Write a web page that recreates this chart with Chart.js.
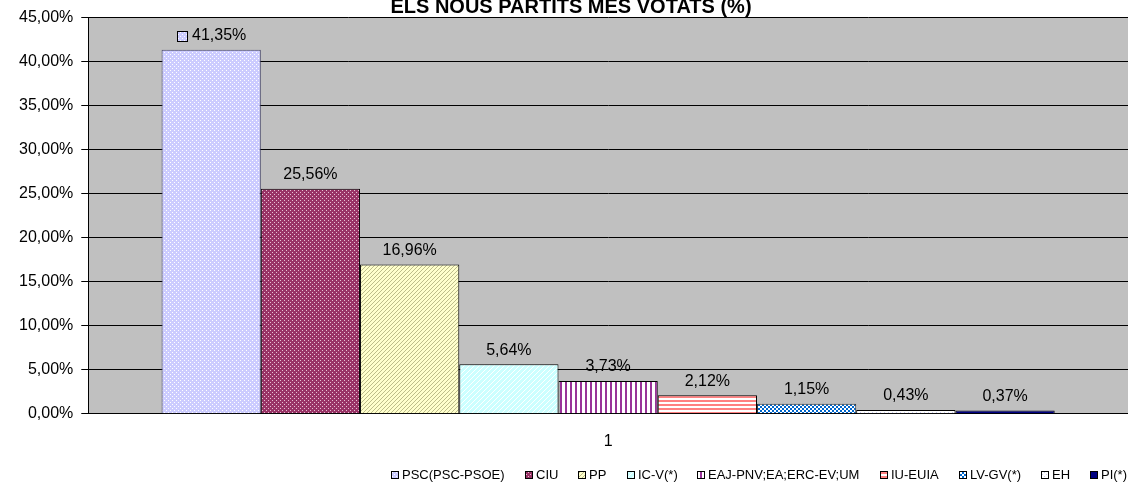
<!DOCTYPE html>
<html>
<head>
<meta charset="utf-8">
<script src="https://cdn.jsdelivr.net/npm/chart.js@4"></script>
<style>
  html, body { margin: 0; background: #fff; }
  #wrap { width: 1128px; height: 486px; position: relative; }
</style>
</head>
<body>
<div id="wrap"><canvas id="chart"></canvas></div>
<script>
// Dades del gràfic
const chartTitle = 'ELS NOUS PARTITS MÉS VOTATS (%)';
const categories = ['1'];
const parties = ['PSC(PSC-PSOE)', 'CIU', 'PP', 'IC-V(*)', 'EAJ-PNV;EA;ERC-EV;UM', 'IU-EUIA', 'LV-GV(*)', 'EH', 'PI(*)'];
const votes = [41.35, 25.56, 16.96, 5.64, 3.73, 2.12, 1.15, 0.43, 0.37];
const yMin = 0, yMax = 45, yStep = 5;

const FONT = '"Liberation Sans", Arial, sans-serif';
const canvasEl = document.getElementById('chart');
const ctx = canvasEl.getContext('2d');

// petits mosaics per imitar les trames d'Excel
function tile(w, h, bg, fg, cells) {
    const c = document.createElement('canvas');
    c.width = w; c.height = h;
    const g = c.getContext('2d');
    g.fillStyle = bg;
    g.fillRect(0, 0, w, h);
    g.fillStyle = fg;
    cells.forEach(([x, y, cw, ch]) => g.fillRect(x, y, cw || 1, ch || 1));
    return ctx.createPattern(c, 'repeat');
}

const fills = [
    tile(4, 4, '#CCCCFF', '#FFFFFF', [[0, 0], [2, 2]]),
    tile(4, 4, '#993366', '#E8C0D4', [[0, 0], [2, 2]]),
    tile(4, 4, '#FFFFCC', '#BDBD8A', [[3, 0], [2, 1], [1, 2], [0, 3]]),
    tile(5, 5, '#CCFFFF', '#FFFFFF', [[4, 0], [3, 1], [2, 2], [1, 3], [0, 4]]),
    tile(5, 1, '#FFFFFF', '#993399', [[0, 0, 2, 1]]),
    tile(1, 4, '#FFFFFF', '#FF8080', [[0, 0, 1, 2]]),
    tile(4, 4, '#0066CC', '#FFFFFF', [[0, 0, 2, 2], [2, 2, 2, 2]]),
    tile(4, 4, '#FFFFFF', '#CCCCF0', [[0, 0], [2, 2]]),
    '#000080'
];
const borders = ['#404066', '#000', '#000', '#000', '#000', '#000', '#333', '#000', '#000'];

function pct(v) {
    return v.toFixed(2).replace('.', ',') + '%';
}

// fons gris de l'àrea del gràfic
const plotBg = {
    id: 'plotBg',
    beforeDraw(chart) {
        const { ctx, chartArea: a } = chart;
        ctx.save();
        ctx.fillStyle = '#C0C0C0';
        ctx.fillRect(a.left, a.top, a.right - a.left, a.bottom - a.top);
        ctx.restore();
    }
};

// títol retallat a dalt, com a l'original
const topTitle = {
    id: 'topTitle',
    afterDraw(chart) {
        const c = chart.ctx;
        c.save();
        c.font = 'bold 20px ' + FONT;
        c.fillStyle = '#000';
        c.textAlign = 'center';
        c.textBaseline = 'alphabetic';
        c.fillText(chartTitle, 571, 13);
        c.restore();
    }
};

// etiquetes de valor sobre les barres
const valueLabels = {
    id: 'valueLabels',
    afterDatasetsDraw(chart) {
        const c = chart.ctx;
        c.save();
        c.font = '16px ' + FONT;
        c.fillStyle = '#000';
        c.textBaseline = 'middle';
        chart.data.datasets.forEach((ds, i) => {
            const bar = chart.getDatasetMeta(i).data[0];
            const txt = pct(ds.data[0]);
            const w = c.measureText(txt).width;
            const y = bar.y - 14;
            if (i === 0) {
                // clau de llegenda davant de la primera etiqueta
                const total = 11 + 4 + w;
                const x0 = Math.round(bar.x - total / 2);
                c.fillStyle = ds.backgroundColor;
                c.fillRect(x0, Math.round(y) - 5, 11, 11);
                c.strokeStyle = '#000';
                c.lineWidth = 1;
                c.strokeRect(x0 + 0.5, Math.round(y) - 4.5, 10, 10);
                c.fillStyle = '#000';
                c.textAlign = 'left';
                c.fillText(txt, x0 + 15, y);
            } else {
                c.textAlign = 'center';
                c.fillText(txt, bar.x, y);
            }
        });
        c.restore();
    }
};

// llegenda a baix a la dreta, dibuixada a mà
const bottomLegend = {
    id: 'bottomLegend',
    afterDraw(chart) {
        const c = chart.ctx;
        const left = 391, right = 1127, y = 475, box = 8, gap = 3;
        c.save();
        c.font = '13px ' + FONT;
        c.textBaseline = 'middle';
        c.textAlign = 'left';
        const widths = chart.data.datasets.map(ds => box + gap + c.measureText(ds.label).width);
        const sum = widths.reduce((a, b) => a + b, 0);
        const space = (right - left - sum) / (widths.length - 1);
        let x = left;
        chart.data.datasets.forEach((ds, i) => {
            const bx = Math.round(x);
            c.fillStyle = ds.backgroundColor;
            c.fillRect(bx, y - 4, box, box);
            c.strokeStyle = '#000';
            c.lineWidth = 1;
            c.strokeRect(bx + 0.5, y - 3.5, box - 1, box - 1);
            c.fillStyle = '#000';
            c.fillText(ds.label, bx + box + gap, y + 0.5);
            x += widths[i] + space;
        });
        c.restore();
    }
};

const datasets = parties.map((name, i) => ({
    label: name,
    data: [votes[i]],
    backgroundColor: fills[i],
    borderColor: borders[i],
    borderWidth: 1,
    borderSkipped: 'bottom'
}));

new Chart(ctx, {
    type: 'bar',
    data: { labels: categories, datasets: datasets },
    options: {
        responsive: true,
        maintainAspectRatio: false,
        animation: false,
        layout: { padding: { top: 16, left: 11, right: 0, bottom: 17 } },
        datasets: { bar: { barPercentage: 1, categoryPercentage: 0.859 } },
        scales: {
            x: {
                grid: { display: false, drawTicks: false },
                border: { display: true, color: '#000', width: 1 },
                ticks: { color: '#000', font: { size: 16, family: FONT }, padding: 18 }
            },
            y: {
                min: yMin,
                max: yMax,
                grid: { color: '#000', lineWidth: 1, tickLength: 7, tickColor: '#000' },
                border: { display: true, color: '#000', width: 1 },
                ticks: {
                    stepSize: yStep,
                    color: '#000',
                    padding: 8,
                    font: { size: 16, family: FONT },
                    callback: v => pct(v)
                }
            }
        },
        plugins: {
            legend: { display: false },
            tooltip: { enabled: false }
        }
    },
    plugins: [plotBg, valueLabels, topTitle, bottomLegend]
});
</script>
</body>
</html>
